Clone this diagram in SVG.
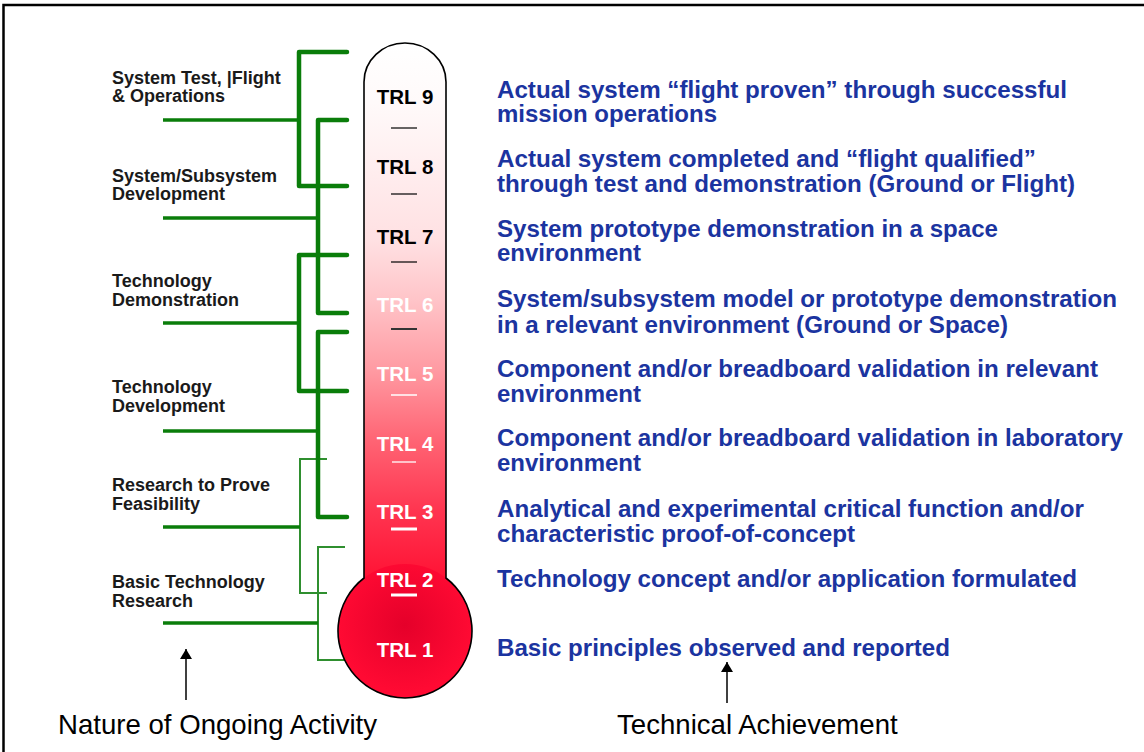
<svg xmlns="http://www.w3.org/2000/svg" width="1144" height="752" viewBox="0 0 1144 752">
<style>
.lbl{font-family:"Liberation Sans",Arial,sans-serif;font-weight:bold;font-size:18px;fill:#1a1a1a}
.desc{font-family:"Liberation Sans",Arial,sans-serif;font-weight:bold;font-size:23.6px;fill:#1b34a0}
.trl{font-family:"Liberation Sans",Arial,sans-serif;font-weight:bold;font-size:20.5px;text-anchor:middle}
.cap{font-family:"Liberation Sans",Arial,sans-serif;font-size:27.6px;fill:#000}
.thick{fill:none;stroke:#0a7d0a;stroke-width:4.5;stroke-linecap:round;stroke-linejoin:round}
.stem{fill:none;stroke:#0a7d0a;stroke-width:3.5}
.thin{fill:none;stroke:#2f8f2f;stroke-width:2}
</style>
<defs>
<linearGradient id="tube" gradientUnits="userSpaceOnUse" x1="0" y1="43" x2="0" y2="580">
<stop offset="0" stop-color="#ffffff"/>
<stop offset="0.11" stop-color="#fffafa"/>
<stop offset="0.37" stop-color="#ffe0e2"/>
<stop offset="0.48" stop-color="#ffc4c8"/>
<stop offset="0.61" stop-color="#ff9aa2"/>
<stop offset="0.74" stop-color="#ff6474"/>
<stop offset="0.87" stop-color="#ff3550"/>
<stop offset="1" stop-color="#ff1234"/>
</linearGradient>
<radialGradient id="bulb" gradientUnits="userSpaceOnUse" cx="405" cy="625" r="67">
<stop offset="0" stop-color="#e5002a"/>
<stop offset="1" stop-color="#ff0a33"/>
</radialGradient>
<marker id="ah" viewBox="0 0 10 12" refX="10" refY="6" markerWidth="10" markerHeight="12" markerUnits="userSpaceOnUse" orient="auto">
<path d="M0,0 L10,6 L0,12 z" fill="#000"/>
</marker>
</defs>
<rect width="1144" height="752" fill="#fff"/>
<path d="M3.5,752 V5 H1144" fill="none" stroke="#000" stroke-width="2.5"/>

<g id="connectors">
<path class="thin" d="M327,459 H300 V593 H327"/>
<path class="thin" d="M345,547 H318 V660 H348"/>
<path class="stem" d="M163,527 H300"/>
<path class="stem" d="M163,623 H318"/>
<path class="thick" d="M347,52 H299 V186 H347"/>
<path class="thick" d="M347,120 H318 V313 H347"/>
<path class="thick" d="M347,255 H299 V391 H347"/>
<path class="thick" d="M347,332 H318 V517 H347"/>
<path class="stem" d="M163,120 H299"/>
<path class="stem" d="M163,218 H318"/>
<path class="stem" d="M163,323 H299"/>
<path class="stem" d="M163,431 H318"/>
<line x1="186" y1="700" x2="186" y2="649" stroke="#000" stroke-width="1.5" marker-end="url(#ah)"/>
<line x1="727" y1="703" x2="727" y2="662" stroke="#000" stroke-width="1.5" marker-end="url(#ah)"/>
</g>

<g id="thermometer">
<path d="M364,82 A41,39 0 0 1 446,82 V590 H364 Z" fill="url(#tube)"/>
<circle cx="405" cy="631" r="67" fill="url(#bulb)"/>
<path d="M364,82 A41,39 0 0 1 446,82 V578 A67,67 0 1 1 364,578 Z" fill="none" stroke="#000" stroke-width="1.6"/>
<line x1="391" y1="128" x2="417" y2="128" stroke="#000" stroke-width="1.2"/>
<line x1="391" y1="194" x2="417" y2="194" stroke="#000" stroke-width="1.2"/>
<line x1="391" y1="262" x2="417" y2="262" stroke="#000" stroke-width="1.2"/>
<line x1="391" y1="329" x2="417" y2="329" stroke="#333" stroke-width="2"/>
<line x1="391" y1="395" x2="417" y2="395" stroke="#fff" stroke-width="1.5"/>
<line x1="392" y1="462" x2="416" y2="462" stroke="#fff" stroke-width="1.3"/>
<line x1="391" y1="529" x2="417" y2="529" stroke="#fff" stroke-width="3"/>
<line x1="391" y1="595" x2="417" y2="595" stroke="#fff" stroke-width="3"/>
</g>

<g id="trl9"><text class="trl" x="405" y="104" fill="#000">TRL 9</text></g>
<g id="trl8"><text class="trl" x="405" y="174" fill="#000">TRL 8</text></g>
<g id="trl7"><text class="trl" x="405" y="244" fill="#000">TRL 7</text></g>
<g id="trl6"><text class="trl" x="405" y="312" fill="#fff">TRL 6</text></g>
<g id="trl5"><text class="trl" x="405" y="381" fill="#fff">TRL 5</text></g>
<g id="trl4"><text class="trl" x="405" y="451" fill="#fff">TRL 4</text></g>
<g id="trl3"><text class="trl" x="405" y="519" fill="#fff">TRL 3</text></g>
<g id="trl2"><text class="trl" x="405" y="587" fill="#fff">TRL 2</text></g>
<g id="trl1"><text class="trl" x="405" y="657" fill="#fff">TRL 1</text></g>

<g id="act-system-test"><text class="lbl" x="112" y="84">System Test, |Flight</text><text class="lbl" x="112" y="102">&amp; Operations</text></g>
<g id="act-system-dev"><text class="lbl" x="112" y="182">System/Subsystem</text><text class="lbl" x="112" y="200">Development</text></g>
<g id="act-tech-demo"><text class="lbl" x="112" y="287">Technology</text><text class="lbl" x="112" y="306">Demonstration</text></g>
<g id="act-tech-dev"><text class="lbl" x="112" y="393">Technology</text><text class="lbl" x="112" y="412">Development</text></g>
<g id="act-research"><text class="lbl" x="112" y="491">Research to Prove</text><text class="lbl" x="112" y="510">Feasibility</text></g>
<g id="act-basic"><text class="lbl" x="112" y="588">Basic Technology</text><text class="lbl" x="112" y="607">Research</text></g>

<g id="desc9"><text class="desc" x="497" y="98" textLength="570" lengthAdjust="spacingAndGlyphs">Actual system “flight proven” through successful</text><text class="desc" x="497" y="122" textLength="220" lengthAdjust="spacingAndGlyphs">mission operations</text></g>
<g id="desc8"><text class="desc" x="497" y="167" textLength="539" lengthAdjust="spacingAndGlyphs">Actual system completed and “flight qualified”</text><text class="desc" x="497" y="192" textLength="578" lengthAdjust="spacingAndGlyphs">through test and demonstration (Ground or Flight)</text></g>
<g id="desc7"><text class="desc" x="497" y="237" textLength="501" lengthAdjust="spacingAndGlyphs">System prototype demonstration in a space</text><text class="desc" x="497" y="261" textLength="144" lengthAdjust="spacingAndGlyphs">environment</text></g>
<g id="desc6"><text class="desc" x="497" y="307" textLength="620" lengthAdjust="spacingAndGlyphs">System/subsystem model or prototype demonstration</text><text class="desc" x="497" y="333" textLength="511" lengthAdjust="spacingAndGlyphs">in a relevant environment (Ground or Space)</text></g>
<g id="desc5"><text class="desc" x="497" y="377" textLength="601" lengthAdjust="spacingAndGlyphs">Component and/or breadboard validation in relevant</text><text class="desc" x="497" y="402" textLength="144" lengthAdjust="spacingAndGlyphs">environment</text></g>
<g id="desc4"><text class="desc" x="497" y="446" textLength="626" lengthAdjust="spacingAndGlyphs">Component and/or breadboard validation in laboratory</text><text class="desc" x="497" y="471" textLength="144" lengthAdjust="spacingAndGlyphs">environment</text></g>
<g id="desc3"><text class="desc" x="497" y="517" textLength="587" lengthAdjust="spacingAndGlyphs">Analytical and experimental critical function and/or</text><text class="desc" x="497" y="542" textLength="358" lengthAdjust="spacingAndGlyphs">characteristic proof-of-concept</text></g>
<g id="desc2"><text class="desc" x="497" y="587" textLength="580" lengthAdjust="spacingAndGlyphs">Technology concept and/or application formulated</text></g>
<g id="desc1"><text class="desc" x="497" y="656" textLength="453" lengthAdjust="spacingAndGlyphs">Basic principles observed and reported</text></g>

<g id="caption-left"><text class="cap" x="58" y="734">Nature of Ongoing Activity</text></g>
<g id="caption-right"><text class="cap" x="617" y="734">Technical Achievement</text></g>
</svg>
